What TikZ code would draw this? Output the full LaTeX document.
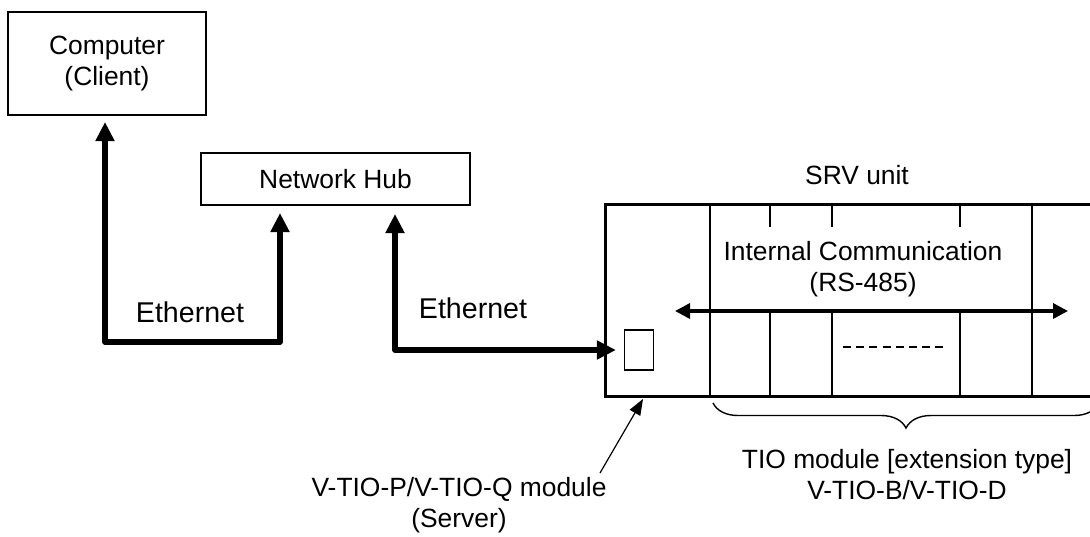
\documentclass[tikz,border=0pt]{standalone}
\usepackage{fontspec}
\setmainfont{Liberation Sans}
\usetikzlibrary{positioning,arrows.meta,decorations.pathreplacing}

\begin{document}
\begin{tikzpicture}[x=0.5pt, y=-0.5pt,
    box/.style={draw, line width=1pt, align=center, inner sep=0pt, font=\fontsize{13.2}{15.5}\selectfont},
    ether/.style={line width=2.8pt, line join=round, {Triangle[length=9.5pt,width=9pt]}-{Triangle[length=9.5pt,width=9pt]}},
    bus/.style={line width=1.7pt, {Triangle[length=7.5pt,width=7.5pt]}-{Triangle[length=7.5pt,width=7.5pt]}},
    pointer/.style={line width=0.6pt, -{Triangle[length=8pt,width=6pt]}},
    lbl/.style={align=center, font=\fontsize{13.2}{15.5}\selectfont},
    ethlbl/.style={font=\fontsize{14.3}{17}\selectfont}]
    \useasboundingbox (0,0) rectangle (1090,536);

    % Boxes
    \node[box, minimum width=99pt, minimum height=51.5pt] (comp) at (107,63.5) {Computer\\(Client)};
    \node[box, minimum width=134.5pt, minimum height=26pt] (hub) at (335.5,179) {Network Hub};
    \node[draw, line width=1.5pt, minimum width=247.5pt, minimum height=96pt, inner sep=0pt] (srv) at (852.5,300) {};
    \node[draw, line width=0.6pt, minimum width=14.5pt, minimum height=20pt, inner sep=0pt] (port) at (639,350) {};

    % Define coordinates
    \coordinate (c1) at (105,342);
    \coordinate (c2) at (280,342);
    \coordinate (c3) at (395,350);
    \coordinate (busL) at (675,311);
    \coordinate (busR) at (1068,311);
    \coordinate (ptr) at (600,473);
    \coordinate (ptrtip) at (643,399);

    % Ethernet links
    \draw[ether, shorten <=3pt, shorten >=3.5pt] (comp.south -| c1) -- (c1) -- (c2) -- (hub.south -| c2);
    \draw[ether, shorten <=4pt, shorten >=4pt] (hub.south -| c3) -- (c3) -- (port.west |- c3);
    \node[ethlbl] (eth1) at (190,312) {Ethernet};
    \node[ethlbl] (eth2) at (473,308) {Ethernet};

    % Module dividers
    \foreach \x in {710,1032}
        \draw[line width=0.8pt] (\x,204) -- (\x,396);
    \foreach \x in {770,832,960} {
        \draw[line width=0.8pt] (\x,204) -- (\x,227);
        \draw[line width=0.8pt] (\x,311) -- (\x,396);
    }
    \draw[line width=0.6pt, dash pattern=on 4pt off 2.6pt] (843,347) -- (948,347);

    % Internal bus
    \draw[bus] (busL) -- (busR);
    \node[lbl, fill=white, inner sep=1pt] (bus) at (863,269) {Internal Communication\\(RS-485)};
    \node[lbl] (srvname) at (857,175) {SRV unit};

    % Brace and labels below
    \draw[line width=0.7pt, decorate, decoration={brace, mirror, amplitude=12.5pt}] (713,403) -- (1099,403);
    \node[lbl] (tio) at (907,475) {TIO module [extension type]\\V-TIO-B/V-TIO-D};
    \node[lbl] (server) at (459,505) {V-TIO-P/V-TIO-Q module\\(Server)};
    \draw[pointer] (ptr) -- (ptrtip);

\end{tikzpicture}
\end{document}
